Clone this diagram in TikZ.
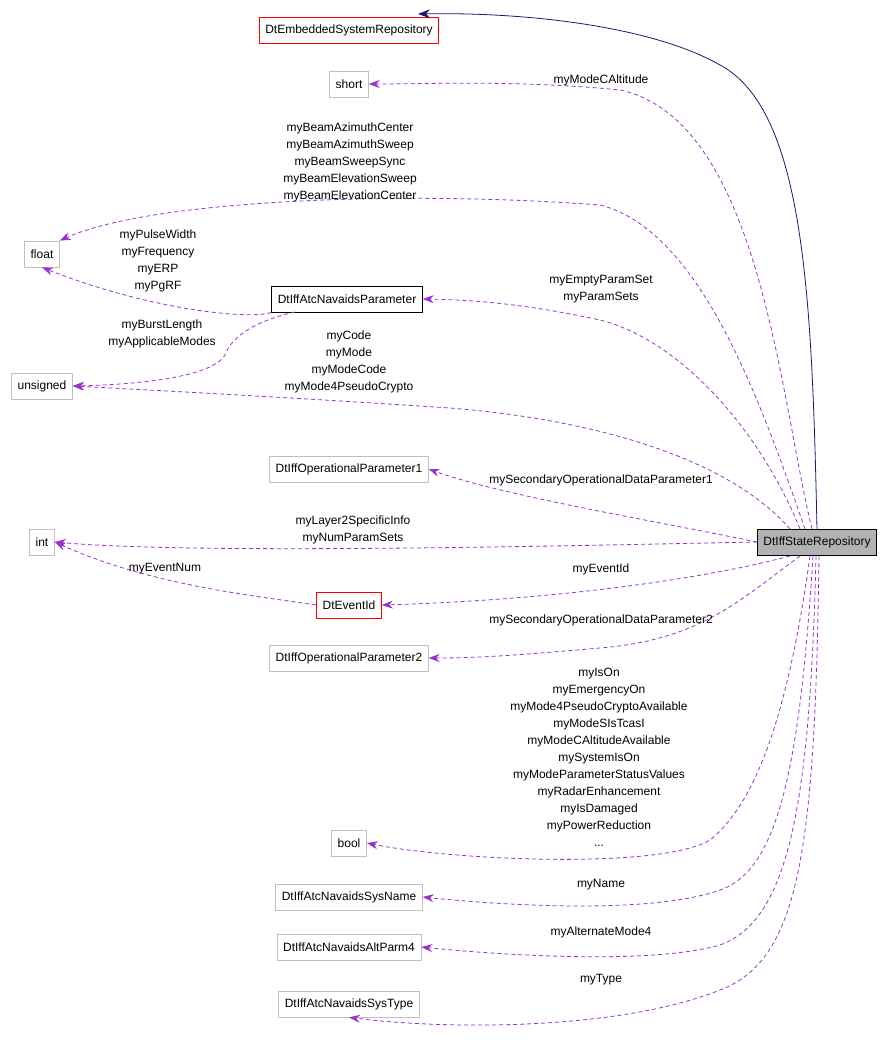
\documentclass[tikz,border=0pt]{standalone}
\usepackage{fontspec}
\setmainfont{Liberation Sans}
\usetikzlibrary{arrows.meta}
\definecolor{dorch}{RGB}{153,50,204}
\definecolor{navyb}{RGB}{25,25,112}
\begin{document}
\begin{tikzpicture}[x=1pt,y=-1pt,
 box/.style={draw=#1,fill=white,line width=0.8pt,minimum height=26pt,inner xsep=6pt,font=\fontsize{12}{14}\selectfont},
 lab/.style={align=center,font=\fontsize{12}{17}\selectfont},
 dep/.style={draw=dorch,line width=0.8pt,dash pattern=on 4pt off 3pt,-{Stealth[length=11pt,width=8pt]}},
 inh/.style={draw=navyb,line width=0.8pt,-{Stealth[length=12pt,width=9pt]}}]
\useasboundingbox (0,0) rectangle (896,1047);
\node[box=red] (emb) at (349,30) {DtEmbeddedSystemRepository};
\node[box=gray!50] (short) at (349,84) {short};
\node[box=gray!50] (float) at (42,254) {float};
\node[box=black] (nav) at (347,299) {DtIffAtcNavaidsParameter};
\node[box=gray!50] (uns) at (42,386) {unsigned};
\node[box=gray!50] (op1) at (349,469) {DtIffOperationalParameter1};
\node[box=gray!50] (int) at (42,542) {int};
\node[box=black,fill=gray!60] (st) at (817,542) {DtIffStateRepository};
\node[box=red] (ev) at (349,605) {DtEventId};
\node[box=gray!50] (op2) at (349,658) {DtIffOperationalParameter2};
\node[box=gray!50] (bool) at (349,843) {bool};
\node[box=gray!50] (sn) at (349,897) {DtIffAtcNavaidsSysName};
\node[box=gray!50] (alt) at (349,947) {DtIffAtcNavaidsAltParm4};
\node[box=gray!50] (sty) at (349,1004) {DtIffAtcNavaidsSysType};
\coordinate (s0) at (812,529);
\draw[inh] (817,529) .. controls (812,300) and (805,110) .. (720,65) .. controls (650,25) and (520,12) .. (418,14);
\draw[dep] (s0) .. controls (780,400) and (760,120) .. (620,90) .. controls (520,80) and (430,84) .. (short.east);
\draw[dep] (805,529) .. controls (760,400) and (700,230) .. (600,205) .. controls (400,190) and (150,200) .. (float.north east);
\draw[dep] (800,529) .. controls (760,430) and (680,340) .. (600,320) .. controls (530,305) and (480,300) .. (nav.east);
\draw[dep] (nav.south west) .. controls (250,320) and (150,310) .. (float.south);
\draw[dep] (295,312) .. controls (250,322) and (230,340) .. (225,355) .. controls (210,380) and (120,385) .. (uns.east);
\draw[dep] (790,529) .. controls (730,460) and (600,420) .. (450,408) .. controls (300,398) and (150,390) .. (uns.east);
\draw[dep] (st.west) .. controls (650,520) and (500,495) .. (op1.east);
\draw[dep] (st.west) .. controls (600,545) and (200,555) .. (int.east);
\draw[dep] (ev.west) .. controls (250,595) and (150,585) .. (int.east);
\draw[dep] (790,556) .. controls (700,580) and (550,600) .. (ev.east);
\draw[dep] (800,556) .. controls (740,600) and (700,640) .. (600,648) .. controls (520,655) and (480,658) .. (op2.east);
\draw[dep] (810,556) .. controls (790,700) and (760,800) .. (710,840) .. controls (660,870) and (450,860) .. (bool.east);
\draw[dep] (813,556) .. controls (800,760) and (780,870) .. (720,890) .. controls (650,915) and (500,905) .. (sn.east);
\draw[dep] (816,556) .. controls (810,800) and (790,920) .. (720,945) .. controls (650,965) and (500,955) .. (alt.east);
\draw[dep] (819,556) .. controls (815,850) and (800,960) .. (720,990) .. controls (620,1030) and (450,1030) .. (sty.south);
\node[lab] at (601,80) {myModeCAltitude};
\node[lab] at (350,162) {myBeamAzimuthCenter\\myBeamAzimuthSweep\\myBeamSweepSync\\myBeamElevationSweep\\myBeamElevationCenter};
\node[lab] at (158,261) {myPulseWidth\\myFrequency\\myERP\\myPgRF};
\node[lab] at (601,289) {myEmptyParamSet\\myParamSets};
\node[lab] at (162,334) {myBurstLength\\myApplicableModes};
\node[lab] at (349,362) {myCode\\myMode\\myModeCode\\myMode4PseudoCrypto};
\node[lab] at (601,480) {mySecondaryOperationalDataParameter1};
\node[lab] at (353,530) {myLayer2SpecificInfo\\myNumParamSets};
\node[lab] at (165,569) {myEventNum};
\node[lab] at (601,569) {myEventId};
\node[lab] at (601,620) {mySecondaryOperationalDataParameter2};
\node[lab] at (599,757) {myIsOn\\myEmergencyOn\\myMode4PseudoCryptoAvailable\\myModeSIsTcasI\\myModeCAltitudeAvailable\\mySystemIsOn\\myModeParameterStatusValues\\myRadarEnhancement\\myIsDamaged\\myPowerReduction\\...};
\node[lab] at (601,885) {myName};
\node[lab] at (601,932) {myAlternateMode4};
\node[lab] at (601,980) {myType};
\end{tikzpicture}
\end{document}
